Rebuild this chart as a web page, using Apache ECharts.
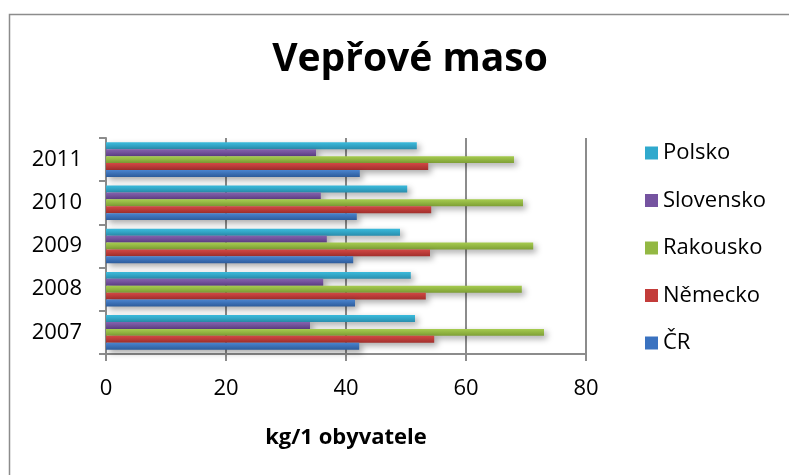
<!DOCTYPE html>
<html>
<head>
<meta charset="utf-8">
<script src="https://cdn.jsdelivr.net/npm/echarts@6/dist/echarts.min.js"></script>
<style>
  html, body { margin: 0; padding: 0; background: #fff; }
  #chart { width: 789px; height: 475px; }
</style>
</head>
<body>
<div id="chart"></div>
<script>
const years = ['2007', '2008', '2009', '2010', '2011']
const cr = [42.2, 41.5, 41.2, 41.8, 42.3]
const nemecko = [54.7, 53.3, 54.0, 54.2, 53.7]
const rakousko = [73.0, 69.3, 71.2, 69.5, 68.0]
const slovensko = [34.0, 36.2, 36.8, 35.8, 35.0]
const polsko = [51.5, 50.8, 49.0, 50.2, 51.8]
const xTicks = [0, 20, 40, 60, 80]

const fontFamily = '"Open Sans", Lato, sans-serif'

const grad = (top, bottom) => new echarts.graphic.LinearGradient(0, 0, 0, 1, [
  { offset: 0, color: top },
  { offset: 1, color: bottom }
])

// top of each year group first: Polsko sits on top, ČR at the bottom
const seriesDefs = [
  { name: 'Polsko', data: polsko, colors: ['#3bbbdc', '#2a8eae'], legend: '#30a9cd' },
  { name: 'Slovensko', data: slovensko, colors: ['#8562ad', '#5e3f86'], legend: '#7553a0' },
  { name: 'Rakousko', data: rakousko, colors: ['#a6cc4f', '#7e9f35'], legend: '#93b843' },
  { name: 'Německo', data: nemecko, colors: ['#d24845', '#a22f2c'], legend: '#c33c3a' },
  { name: 'ČR', data: cr, colors: ['#4a84cf', '#2d5c9c'], legend: '#3a72c0' }
]

const chart = echarts.init(document.getElementById('chart'), null, { renderer: 'canvas' })

const option = {
  backgroundColor: '#fff',
  animation: false,
  textStyle: { fontFamily },
  title: {
    text: 'Vepřové maso',
    left: 405,
    top: 35,
    textAlign: 'center',
    textStyle: {
      color: '#000',
      fontSize: 39,
      fontWeight: 'bold',
      fontFamily
    }
  },
  graphic: [{
    type: 'rect',
    left: 7,
    top: 12,
    shape: { width: 820, height: 520 },
    style: { fill: 'none', stroke: '#8c8c8c', lineWidth: 1.5 },
    silent: true
  }],
  legend: {
    orient: 'vertical',
    left: 640,
    top: 137,
    itemWidth: 13,
    itemHeight: 13,
    itemGap: 25.5,
    icon: 'rect',
    data: seriesDefs.map(s => ({ name: s.name, itemStyle: { color: s.legend } })),
    textStyle: { color: '#000', fontSize: 22, lineHeight: 22, fontFamily, padding: [0, 0, 0, 0] }
  },
  grid: {
    left: 106,
    right: 203,
    top: 138,
    bottom: 121,
    containLabel: false
  },
  xAxis: {
    type: 'value',
    min: xTicks[0],
    max: xTicks[xTicks.length - 1],
    interval: 20,
    name: 'kg/1 obyvatele',
    nameLocation: 'middle',
    nameGap: 73,
    nameTextStyle: { color: '#000', fontSize: 22, fontWeight: 'bold', fontFamily },
    axisLine: { show: true, lineStyle: { color: '#8c8c8c', width: 2 } },
    axisTick: { show: true, length: 7, lineStyle: { color: '#8c8c8c', width: 2 } },
    axisLabel: { color: '#000', fontSize: 22, margin: 24, fontFamily },
    splitLine: { show: true, lineStyle: { color: '#8c8c8c', width: 2 } }
  },
  yAxis: {
    type: 'category',
    data: years,
    axisLine: { show: true, lineStyle: { color: '#8c8c8c', width: 2 } },
    axisTick: { show: true, length: 7, lineStyle: { color: '#8c8c8c', width: 2 } },
    axisLabel: { color: '#000', fontSize: 22, margin: 24, fontFamily },
    splitLine: { show: false }
  },
  series: seriesDefs.map(s => ({
    name: s.name,
    type: 'bar',
    data: s.data,
    barGap: '0%',
    barCategoryGap: '20%',
    itemStyle: {
      color: grad(s.colors[0], s.colors[1]),
      shadowColor: 'rgba(0, 0, 0, 0.35)',
      shadowBlur: 6,
      shadowOffsetX: 3,
      shadowOffsetY: 3
    }
  }))
}

chart.setOption(option)
</script>
</body>
</html>
